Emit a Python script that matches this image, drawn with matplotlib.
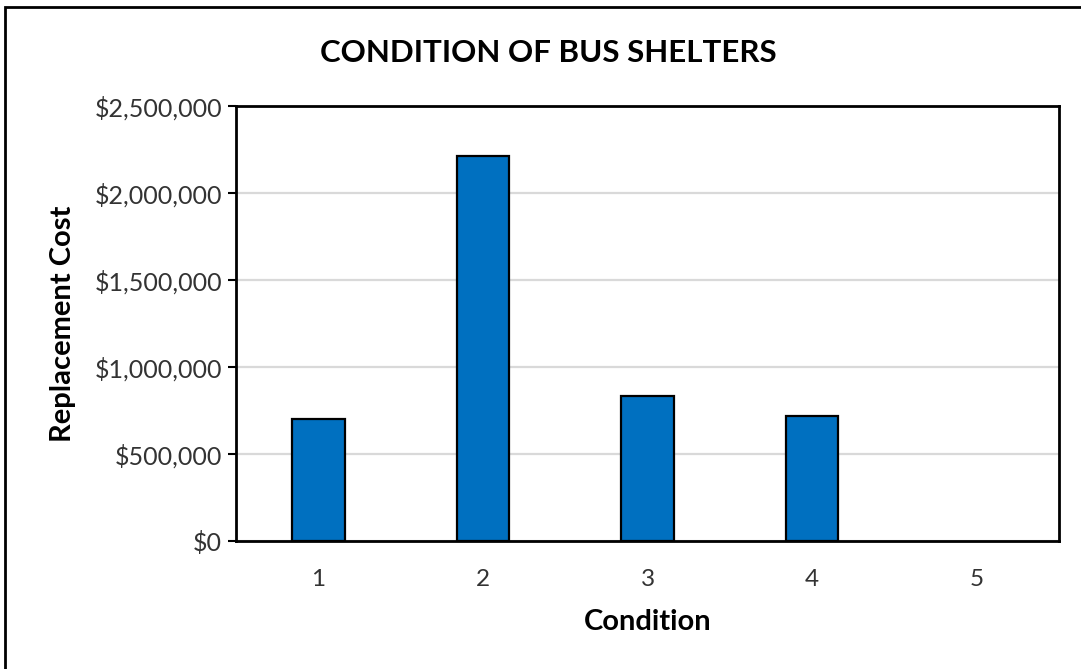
import matplotlib.pyplot as plt
from matplotlib.ticker import FuncFormatter
from matplotlib.patches import Rectangle

# data
conditions = ['1', '2', '3', '4', '5']
replacement_cost = [701000, 2213000, 833000, 718000, 0]

bar_color = '#0070C0'
plt.rcParams['font.family'] = ['Lato', 'DejaVu Sans']

fig = plt.figure(figsize=(10.81, 6.69), dpi=100)
W, H = 1081, 669
ax = fig.add_axes([236 / W, 1 - 541 / H, (1059 - 236) / W, (541 - 106) / H])

x = range(len(conditions))
# no outline on empty bars (condition 5 is zero)
edges = [1.6 if v > 0 else 0 for v in replacement_cost]
ax.bar(x, replacement_cost, width=0.32, color=bar_color, edgecolor='black',
       linewidth=edges, zorder=3)

ax.set_xlim(-0.5, len(conditions) - 0.5)
ax.set_ylim(0, 2500000)
ax.set_yticks(range(0, 2500001, 500000))
ax.yaxis.set_major_formatter(FuncFormatter(lambda v, p: '${:,.0f}'.format(v)))
ax.set_xticks(list(x))
ax.set_xticklabels(conditions)

ax.grid(axis='y', color='#d9d9d9', linewidth=1.6, zorder=0)
for s in ax.spines.values():
    s.set_linewidth(2)
    s.set_color('black')
ax.tick_params(axis='y', length=6, width=1.5, labelsize=18, pad=4)
ax.tick_params(axis='x', length=0, labelsize=17.5, pad=20)
for lbl in ax.get_yticklabels() + ax.get_xticklabels():
    lbl.set_color('#333333')

ax.set_xlabel('Condition', fontsize=21, fontweight='bold')
ax.set_ylabel('Replacement Cost', fontsize=21, fontweight='bold')
ax.xaxis.set_label_coords(0.5, (541 - 609) / 435)
ax.yaxis.set_label_coords((76 - 236) / 823, 0.5)
fig.text(548 / W, 1 - 53 / H, 'CONDITION OF BUS SHELTERS', fontsize=22.5,
         fontweight='bold', ha='center', va='center')

# outer chart border
fig.patches.append(Rectangle((5 / W, -0.05), 1.1, 1 - 7 / H + 0.05,
                             transform=fig.transFigure, fill=False,
                             edgecolor='black', linewidth=2))

fig.savefig('out.png', dpi=100)
